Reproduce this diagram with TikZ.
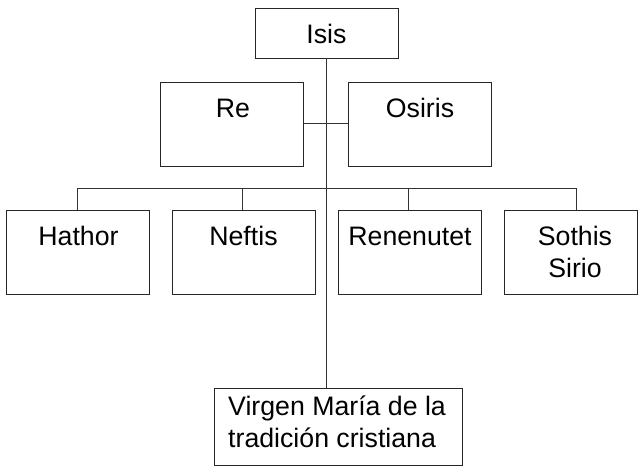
\documentclass[tikz,border=0pt]{standalone}
\usepackage{fontspec}
\setmainfont{Liberation Sans}
\begin{document}
\begin{tikzpicture}[x=1pt,y=1pt,
  box/.style={draw=black!85, line width=0.8pt, rectangle, inner sep=0pt, minimum width=143pt, minimum height=84pt},
  lbl/.style={inner sep=0pt, font=\fontsize{26.7}{32}\selectfont, align=center},
  conn/.style={draw=black!80, line width=0.7pt}]
\useasboundingbox (0,0) rectangle (638,-467);
% boxes
\node[box, minimum height=50pt] (isis) at (326.5,-33) {};
\node[box] (re) at (232,-124) {};
\node[box] (osiris) at (419.5,-124) {};
\node[box] (hathor) at (77.5,-252) {};
\node[box] (neftis) at (243.5,-252) {};
\node[box] (renenutet) at (409.5,-252) {};
\node[box, minimum width=133pt] (sothis) at (570.5,-252) {};
\node[box, minimum width=248pt, minimum height=77pt] (virgen) at (338,-426.5) {};
% texts
\node[lbl, anchor=base] (tisis) at (326.5,-43) {Isis};
\node[lbl, anchor=base] (tre) at (233,-117) {Re};
\node[lbl, anchor=base] (tosiris) at (420,-117) {Osiris};
\node[lbl, anchor=base] (thathor) at (78.5,-245) {Hathor};
\node[lbl, anchor=base] (tneftis) at (243.5,-245) {Neftis};
\node[lbl, anchor=base] (trenenutet) at (410,-245) {Renenutet};
\node[lbl, anchor=base] (tsothis) at (575,-277) {Sothis\\Sirio};
\node[lbl, anchor=base west, align=left] (tvirgen) at (228,-447) {Virgen María de la\\tradición cristiana};
% connector coordinates
\coordinate (bus) at (326,-188);
\coordinate (mid) at (326,-123);
\coordinate (xh) at (77,-188);
\coordinate (xn) at (242,-188);
\coordinate (xr) at (408,-188);
\coordinate (xs) at (576,-188);
\draw[conn] (isis.south -| mid) -- (virgen.north -| mid);
\draw[conn] (re.east |- mid) -- (osiris.west |- mid);
\draw[conn] (xh) -- (xs);
\draw[conn] (xh) -- (hathor.north -| xh);
\draw[conn] (xn) -- (neftis.north -| xn);
\draw[conn] (xr) -- (renenutet.north -| xr);
\draw[conn] (xs) -- (sothis.north -| xs);
\end{tikzpicture}
\end{document}
